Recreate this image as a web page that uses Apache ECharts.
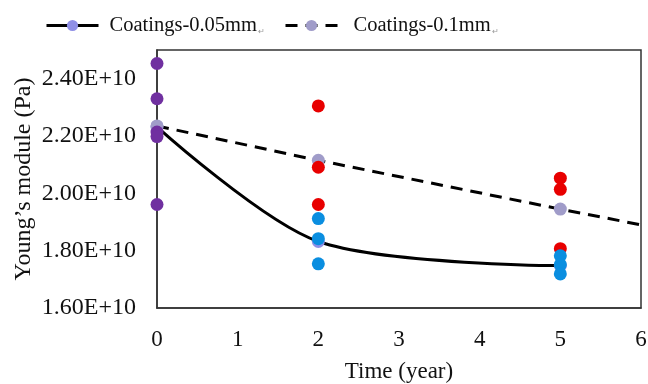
<!DOCTYPE html>
<html><head><meta charset="utf-8">
<script src="https://cdn.jsdelivr.net/npm/echarts@6/dist/echarts.min.js"></script>
<style>html,body{margin:0;padding:0;background:#fff}#c{width:648px;height:384px}</style>
</head><body><div id="c"></div>
<script>
// Data (Pa)
const seriesNames = ['Coatings-0.05mm', 'Coatings-0.1mm'];
const xTicks = [0, 1, 2, 3, 4, 5, 6];
const yTicks = [1.6e10, 1.8e10, 2.0e10, 2.2e10, 2.4e10];
// mean curve, 0.05 mm
const mean005X = [0, 2, 5];
const mean005Y = [2.232e10, 1.832e10, 1.748e10];
// mean points, 0.1 mm
const mean01X = [0, 2, 5];
const mean01Y = [2.235e10, 2.115e10, 1.945e10];
// linear trend end, 0.1 mm
const trend01End = [6, 1.89e10];
// individual samples
const initialX = [0, 0, 0, 0, 0];
const initialY = [2.453e10, 2.33e10, 2.214e10, 2.198e10, 1.961e10];
const thin005X = [2, 2, 2, 5, 5, 5];
const thin005Y = [1.912e10, 1.842e10, 1.754e10, 1.782e10, 1.751e10, 1.719e10];
const thick01X = [2, 2, 2, 5, 5, 5];
const thick01Y = [2.305e10, 2.091e10, 1.961e10, 2.053e10, 2.014e10, 1.807e10];

const zip = (xs, ys) => xs.map((x, i) => [x, ys[i]]);
const font = "'Liberation Serif','Times New Roman',serif";

const dashedData = zip(mean01X, mean01Y);
dashedData.push({ value: trend01End, symbol: 'none' });

function legendCfg(left, name, padLeft) {
  return {
    top: 10, left: left, itemWidth: 52, itemHeight: 14,
    data: [name],
    lineStyle: { width: 3, color: '#000' },
    textStyle: {
      fontFamily: font, fontSize: 20.5, color: '#111',
      rich: {
        m: { fontFamily: font, fontSize: 20.5, color: '#111', padding: [0, 0, 0, padLeft] },
        r: { fontSize: 8, color: '#999', verticalAlign: 'bottom', padding: [8, 0, 0, 1] }
      }
    },
    formatter: n => '{m|' + n + '}{r|↵}'
  };
}

const chart = echarts.init(document.getElementById('c'));
chart.setOption({
  animation: false,
  backgroundColor: '#fff',
  grid: {
    left: 157, right: 7, top: 50, bottom: 76, containLabel: false, outerBoundsMode: 'none',
    show: true, borderColor: '#333', borderWidth: 1.5, backgroundColor: 'transparent'
  },
  legend: [legendCfg(40, seriesNames[0], 6), legendCfg(279, seriesNames[1], 11)],
  xAxis: {
    type: 'value', min: 0, max: 6, interval: 1,
    name: 'Time (year)', nameLocation: 'middle', nameGap: 52, nameMoveOverlap: false,
    nameTextStyle: { fontFamily: font, fontSize: 23, color: '#111' },
    axisLine: { show: true, lineStyle: { color: '#333', width: 1.5 } },
    axisTick: { show: false }, splitLine: { show: false },
    axisLabel: { fontFamily: font, fontSize: 23, color: '#111', margin: 20, formatter: v => xTicks.includes(v) ? String(v) : '' }
  },
  yAxis: {
    type: 'value', min: 1.6e10, max: 2.5e10, interval: 0.2e10,
    name: 'Young’s module (Pa)', nameLocation: 'middle', nameGap: 121, nameMoveOverlap: false,
    nameTextStyle: { fontFamily: font, fontSize: 24, color: '#111' },
    axisLine: { show: true, lineStyle: { color: '#333', width: 1.5 } },
    axisTick: { show: false }, splitLine: { show: false },
    axisLabel: {
      fontFamily: font, fontSize: 24, color: '#111', margin: 21, showMaxLabel: false,
      formatter: v => yTicks.some(t => Math.abs(t - v) < 1e6) ? (v / 1e10).toFixed(2) + 'E+10' : ''
    }
  },
  series: [
    {
      name: seriesNames[0], type: 'line', smooth: 0.3, data: zip(mean005X, mean005Y),
      symbol: 'circle', symbolSize: 13, z: 2,
      lineStyle: { color: '#000', width: 3 },
      itemStyle: { color: '#8f8fe6' }
    },
    {
      name: seriesNames[1], type: 'line', data: dashedData,
      symbol: 'circle', symbolSize: 13, z: 2,
      lineStyle: { color: '#000', width: 3, type: [12, 8] },
      itemStyle: { color: '#a09cc9' }
    },
    { type: 'scatter', data: zip(initialX, initialY), symbolSize: 13, z: 5, itemStyle: { color: '#7030a0', opacity: 1 } },
    { type: 'scatter', data: zip(thick01X, thick01Y), symbolSize: 13, z: 5, itemStyle: { color: '#e80000', opacity: 1 } },
    { type: 'scatter', data: zip(thin005X, thin005Y), symbolSize: 13, z: 6, itemStyle: { color: '#0a8ee0', opacity: 1 } }
  ]
});
</script></body></html>
